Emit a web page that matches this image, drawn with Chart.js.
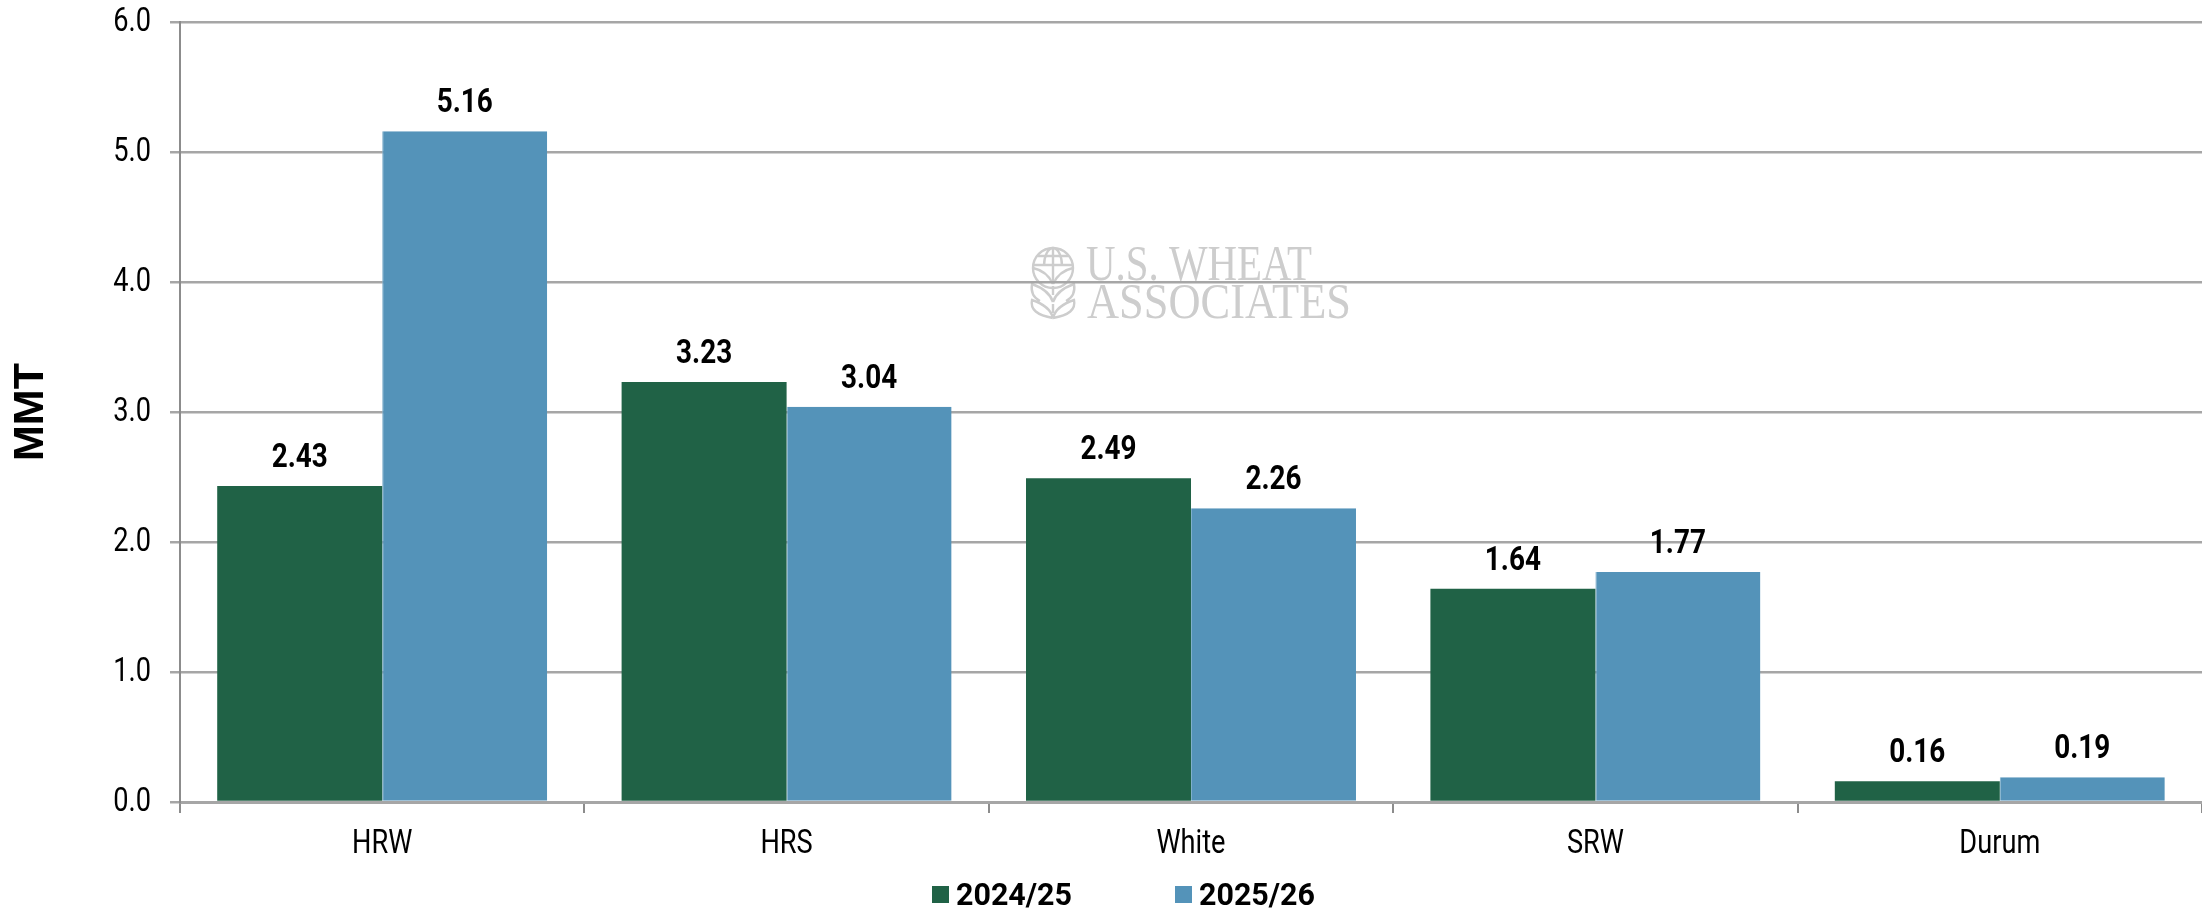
<!DOCTYPE html>
<html><head><meta charset="utf-8">
<style>html,body{margin:0;padding:0;background:#fff}canvas{display:block}</style>
<script src="https://cdn.jsdelivr.net/npm/chart.js@4"></script>
</head><body>
<div style="width:2202px;height:909px;position:relative"><canvas id="c" width="2202" height="909"></canvas></div>
<script>
const categories = ["HRW","HRS","White","SRW","Durum"];
const series2024 = [2.43,3.23,2.49,1.64,0.16];
const series2025 = [5.16,3.04,2.26,1.77,0.19];
const seriesNames = ["2024/25","2025/26"];

const canvas = document.getElementById('c');
const rawCtx = canvas.getContext('2d');
const origFill = rawCtx.fillText.bind(rawCtx);
// Narrow the regular tick text: only Roboto is available, the reference is set in a condensed cut
rawCtx.fillText = function(t,x,y,m){
  if(/^34px/.test(rawCtx.font)){
    rawCtx.save(); rawCtx.translate(x,y); rawCtx.scale(0.8,1); origFill(t,0,0); rawCtx.restore();
  } else if(m===undefined){ origFill(t,x,y); } else { origFill(t,x,y,m); }
};

const watermark = {
  id:'watermark',
  beforeDraw(chart){
    const ctx = chart.ctx; ctx.save();
    ctx.fillStyle='#fff'; ctx.fillRect(0,0,chart.width,chart.height);
    const col='#cdcdcd';
    ctx.fillStyle=col; ctx.strokeStyle=col; ctx.lineWidth=2.4;
    ctx.font='50px "Liberation Serif"'; ctx.textBaseline='alphabetic'; ctx.textAlign='left';
    ctx.fillText('U.S. WHEAT',1086,280,226);
    ctx.fillText('ASSOCIATES',1087,318,264);
    const cx=1053, cy=268, r=20;
    ctx.beginPath(); ctx.arc(cx,cy,r,0,Math.PI*2); ctx.stroke();
    ctx.beginPath(); ctx.ellipse(cx,cy-2,9,r-2,0,Math.PI,Math.PI*2); ctx.stroke();
    ctx.beginPath(); ctx.moveTo(cx,cy-r); ctx.lineTo(cx,cy+16);
    ctx.moveTo(cx-r,cy-3); ctx.lineTo(cx+r,cy-3);
    ctx.moveTo(cx-15,cy-12); ctx.lineTo(cx+15,cy-12); ctx.stroke();
    [-1,1].forEach(s=>{
      ctx.beginPath();
      ctx.moveTo(cx,284); ctx.quadraticCurveTo(cx+s*6,271,cx+s*20,268);
      ctx.moveTo(cx,302); ctx.quadraticCurveTo(cx+s*4,290,cx+s*21,284);
      ctx.quadraticCurveTo(cx+s*23,296,cx+s*13,301);
      ctx.moveTo(cx,318); ctx.quadraticCurveTo(cx+s*3,306,cx+s*21,300);
      ctx.quadraticCurveTo(cx+s*24,314,cx,318);
      ctx.stroke();
    });
    ctx.beginPath(); ctx.moveTo(cx,286); ctx.lineTo(cx,295); ctx.moveTo(cx,304); ctx.lineTo(cx,313); ctx.stroke();
    ctx.restore();
  }
};
const valueLabels = {
  id:'valueLabels',
  afterDatasetsDraw(chart){
    const ctx=chart.ctx; ctx.save();
    ctx.font='bold 34px Roboto'; ctx.fillStyle='#000';
    ctx.textAlign='center'; ctx.textBaseline='alphabetic';
    chart.data.datasets.forEach((ds,i)=>{
      chart.getDatasetMeta(i).data.forEach((bar,j)=>{
        ctx.save(); ctx.translate(bar.x,bar.y-19); ctx.scale(0.82,1);
        ctx.fillText(ds.data[j].toFixed(2),0,0);
        ctx.restore();
      });
    });
    ctx.restore();
  }
};
const swatchLegend = {
  id:'swatchLegend',
  afterDraw(chart){
    const ctx=chart.ctx; ctx.save();
    const lefts=[932,1175];
    ctx.textAlign='left'; ctx.textBaseline='alphabetic';
    ctx.font='bold 31px Roboto';
    chart.data.datasets.forEach((ds,i)=>{
      ctx.fillStyle=ds.backgroundColor; ctx.fillRect(lefts[i],886,17,17);
      ctx.fillStyle='#000'; ctx.fillText(ds.label,lefts[i]+24,905,116);
    });
    ctx.restore();
  }
};
new Chart(canvas,{
  type:'bar',
  data:{labels:categories,datasets:[
    {label:seriesNames[0],data:series2024,backgroundColor:'#206246',borderWidth:0},
    {label:seriesNames[1],data:series2025,backgroundColor:'#5493B9',borderColor:'#7fafcb',borderWidth:{left:1,top:0,right:0,bottom:0}}
  ]},
  plugins:[watermark,valueLabels,swatchLegend],
  options:{
    responsive:false,animation:false,
    layout:{padding:{top:22,right:0,bottom:0,left:0}},
    datasets:{bar:{barPercentage:1,categoryPercentage:0.816}},
    plugins:{tooltip:{enabled:false},legend:{display:false}},
    scales:{
      x:{
        offset:true,
        grid:{display:true,drawOnChartArea:false,offset:true,color:'#8c8c8c',lineWidth:2,tickLength:11},
        border:{color:'#a6a6a6',width:3},
        ticks:{color:'#000',padding:11,font:{family:'Roboto',size:34},maxRotation:0},
        afterFit(a){a.height=107;a.paddingLeft=0;a.paddingRight=0;}
      },
      y:{
        min:0,max:6,
        grid:{color:'#a6a6a6',lineWidth:2.5,tickLength:10},
        border:{color:'#8c8c8c',width:2},
        ticks:{stepSize:1,color:'#000',padding:19,font:{family:'Roboto',size:34},callback:v=>v.toFixed(1)},
        title:{display:true,text:'MMT',color:'#000',padding:{top:5,bottom:0},font:{family:'"Liberation Sans"',weight:'bold',size:43}},
        afterFit(a){a.width=180;a.paddingTop=0;a.paddingBottom=0;}
      }
    }
  }
});
</script>
</body></html>
